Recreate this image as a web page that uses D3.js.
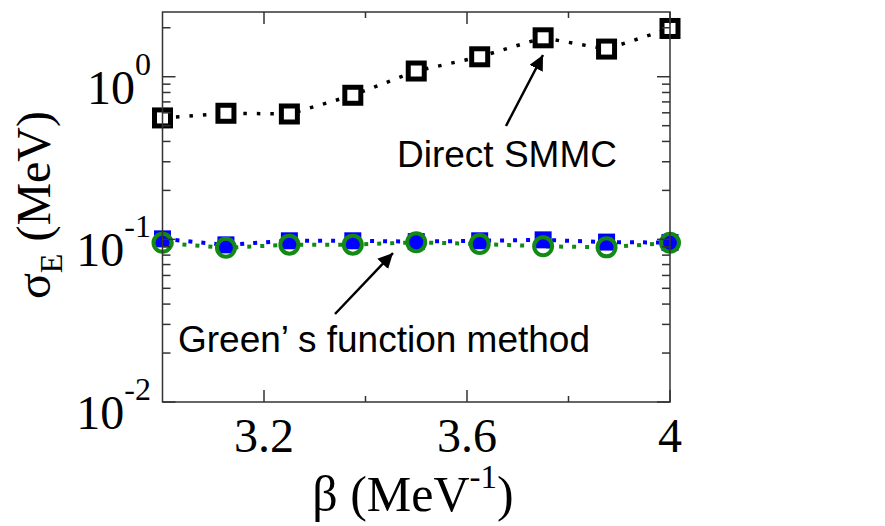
<!DOCTYPE html>
<html>
<head>
<meta charset="utf-8">
<script src="https://cdn.jsdelivr.net/npm/d3@7"></script>
<style>
html,body{margin:0;padding:0;background:#fff;}
svg{display:block;}
</style>
</head>
<body>
<svg id="chart" width="885" height="526"></svg>
<script>
// ---- data ----
const beta = [3.0, 3.125, 3.25, 3.375, 3.5, 3.625, 3.75, 3.875, 4.0];
const directSMMC = [0.558, 0.596, 0.590, 0.769, 1.084, 1.326, 1.735, 1.479, 1.98];
const greenBlue = [0.1007, 0.0925, 0.098, 0.098, 0.0969, 0.098, 0.0993, 0.0962, 0.0956];
const greenCircle = [0.0952, 0.0887, 0.0928, 0.0928, 0.0959, 0.0937, 0.0906, 0.0893, 0.0952];
const xMajorTicks = [3.2, 3.6, 4];
const xMinorTicks = [3.4, 3.8];
const xTickLabels = ["3.2", "3.6", "4"];
const yMajorTicks = [1, 0.1, 0.01];
const yTickExp = ["0", "-1", "-2"];

// ---- layout ----
const svg = d3.select("#chart");
const L = 162.5, T = 12, W = 507.5, H = 390;
const x = d3.scaleLinear().domain([3, 4]).range([L, L + W]);
const y = d3.scaleLog().domain([0.01, 2.5]).range([T + H, T]);

const serif = "'Liberation Serif','Times New Roman',serif";
const sans = "'Liberation Sans',Arial,sans-serif";

// minor y ticks
const yMinor = [];
[0.01, 0.1, 1].forEach(d => { for (let k = 2; k <= 9; k++) { const v = d * k; if (v < 2.5) yMinor.push(v); } });

// ---- series ----
const line = (vals) => d3.line().x((d, i) => x(beta[i])).y(d => y(d))(vals);

const g = svg.append("g");
g.append("path").attr("d", line(directSMMC)).attr("fill", "none")
  .attr("stroke", "#000").attr("stroke-width", 3.5).attr("stroke-dasharray", "3.5 10");
g.append("path").attr("d", line(greenBlue)).attr("fill", "none")
  .attr("stroke", "#0000ff").attr("stroke-width", 4).attr("stroke-dasharray", "4 9");
g.append("path").attr("d", line(greenCircle)).attr("fill", "none")
  .attr("stroke", "#138a13").attr("stroke-width", 4).attr("stroke-dasharray", "4 9").attr("stroke-dashoffset", 6);

// blue filled squares
g.selectAll("rect.bsq").data(greenBlue).enter().append("rect")
  .attr("x", (d, i) => x(beta[i]) - 8.5).attr("y", d => y(d) - 8.5)
  .attr("width", 17).attr("height", 17).attr("fill", "#0000ff");
// green open circles
g.selectAll("circle.gc").data(greenCircle).enter().append("circle")
  .attr("cx", (d, i) => x(beta[i])).attr("cy", d => y(d)).attr("r", 9)
  .attr("fill", "none").attr("stroke", "#138a13").attr("stroke-width", 4);
// black open squares
g.selectAll("rect.ksq").data(directSMMC).enter().append("rect")
  .attr("x", (d, i) => x(beta[i]) - 8).attr("y", d => y(d) - 8)
  .attr("width", 16).attr("height", 16).attr("fill", "#fff")
  .attr("stroke", "#000").attr("stroke-width", 5);

// ---- frame and ticks ----
const axisColor = "#333";
const ax = svg.append("g").attr("stroke", axisColor).attr("stroke-width", 1.5).attr("fill", "none");
ax.append("rect").attr("x", L).attr("y", T).attr("width", W).attr("height", H);
xMajorTicks.concat(xMinorTicks).forEach(v => {
  const len = xMajorTicks.includes(v) ? 12 : 6;
  ax.append("line").attr("x1", x(v)).attr("x2", x(v)).attr("y1", T + H).attr("y2", T + H - len);
  ax.append("line").attr("x1", x(v)).attr("x2", x(v)).attr("y1", T).attr("y2", T + len);
});
yMajorTicks.concat(yMinor).forEach(v => {
  const len = yMajorTicks.includes(v) ? 13 : 8;
  ax.append("line").attr("x1", L).attr("x2", L + len).attr("y1", y(v)).attr("y2", y(v));
  ax.append("line").attr("x1", L + W).attr("x2", L + W - len).attr("y1", y(v)).attr("y2", y(v));
});

// ---- tick labels ----
xMajorTicks.forEach((v, i) => {
  svg.append("text").attr("x", x(v)).attr("y", 452).attr("text-anchor", "middle")
    .attr("font-family", serif).attr("font-size", 48).attr("fill", "#000").text(xTickLabels[i]);
});
yMajorTicks.forEach((v, i) => {
  const t = svg.append("text").attr("x", 151).attr("y", y(v) + 27).attr("text-anchor", "end")
    .attr("font-family", serif).attr("font-size", 48).attr("fill", "#000");
  t.append("tspan").text("10");
  t.append("tspan").attr("font-size", 32).attr("dy", -29).text(yTickExp[i]);
});

// ---- axis titles ----
const xt = svg.append("text").attr("x", 413).attr("y", 511).attr("text-anchor", "middle")
  .attr("font-family", serif).attr("font-size", 50).attr("fill", "#000");
xt.append("tspan").text("β (MeV");
xt.append("tspan").attr("font-size", 33).attr("dy", -23).text("-1");
xt.append("tspan").attr("dy", 23).text(")");

const yt = svg.append("text").attr("transform", "translate(50,205) rotate(-90)").attr("text-anchor", "middle")
  .attr("font-family", serif).attr("font-size", 48).attr("fill", "#000");
yt.append("tspan").text("σ");
yt.append("tspan").attr("font-size", 32).attr("dy", 12).text("E");
yt.append("tspan").attr("dy", -12).text(" (MeV)");

// ---- annotations ----
svg.append("defs").append("marker").attr("id", "ah").attr("viewBox", "0 0 10 10")
  .attr("refX", 10).attr("refY", 5).attr("markerWidth", 6).attr("markerHeight", 6)
  .attr("markerUnits", "strokeWidth").attr("orient", "auto")
  .append("path").attr("d", "M0,0 L10,5 L0,10 z").attr("fill", "#000");

svg.append("line").attr("x1", 506).attr("y1", 126).attr("x2", 543).attr("y2", 55)
  .attr("stroke", "#000").attr("stroke-width", 2.5).attr("marker-end", "url(#ah)");
svg.append("text").attr("x", 397).attr("y", 167).attr("font-family", sans).attr("font-size", 37)
  .attr("fill", "#000").text("Direct SMMC");

svg.append("line").attr("x1", 335).attr("y1", 314).attr("x2", 393).attr("y2", 253)
  .attr("stroke", "#000").attr("stroke-width", 2.5).attr("marker-end", "url(#ah)");
svg.append("text").attr("x", 178).attr("y", 352).attr("font-family", sans).attr("font-size", 37)
  .attr("fill", "#000").text("Green’ s function method");
</script>
</body>
</html>
